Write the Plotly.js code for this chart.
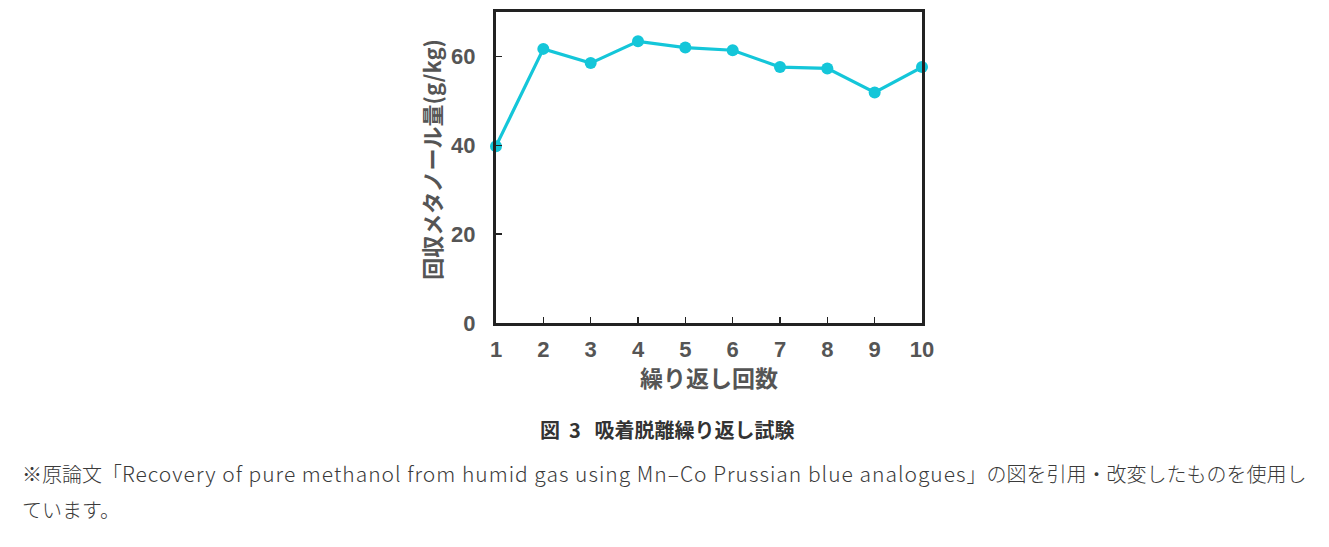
<!DOCTYPE html>
<html>
<head>
<meta charset="utf-8">
<script src="https://cdn.plot.ly/plotly-3.0.1.min.js"></script>
<style>
html,body{margin:0;padding:0;background:#fff;}
#chart{width:1329px;height:547px;}
</style>
</head>
<body>
<div id="chart"></div>
<script>
const cycles = [1, 2, 3, 4, 5, 6, 7, 8, 9, 10];
const methanol = [39.8, 61.7, 58.5, 63.4, 62.0, 61.4, 57.6, 57.3, 51.9, 57.6];
const xTickVals = [1, 2, 3, 4, 5, 6, 7, 8, 9, 10];
const yTickVals = [0, 20, 40, 60];
const yTitle = "回収メタノール量(g/kg)";
const xTitle = "繰り返し回数";
const caption = "図&nbsp;&nbsp;3&nbsp;&nbsp;&nbsp;吸着脱離繰り返し試験";
const noteA = "※原論文「";
const noteLatin = "Recovery of pure methanol from humid gas using Mn–Co Prussian blue analogues";
const noteB = "」の図を引用・改変したものを使用し";
const note2 = "ています。";

const L = 496, R = 922, T = 12, B = 323.5, W = 1329, H = 547;
const pw = R - L, ph = B - T;
const px = v => (v - L) / pw;
const py = v => (B - v) / ph;

const tickFont = {family: "Liberation Sans, Arial, sans-serif", size: 22, color: "#555555", weight: "bold"};
const cjk = "Noto Sans CJK JP, sans-serif";

const trace = {
  x: cycles, y: methanol, type: "scatter", mode: "lines+markers",
  line: {color: "#14c6d9", width: 3.2},
  marker: {color: "#14c6d9", size: 12},
  cliponaxis: false, showlegend: false
};

const noteText = noteA + '<span style="font-size:21px;letter-spacing:1px">' + noteLatin + '</span>' + noteB;

const layout = {
  width: W, height: H,
  margin: {l: L, r: W - R, t: T, b: H - B, pad: 0},
  paper_bgcolor: "#ffffff", plot_bgcolor: "#ffffff",
  xaxis: {
    range: [1, 10], tickvals: xTickVals, ticks: "inside", ticklen: 6, tickwidth: 1.5, tickcolor: "#222",
    showline: true, linecolor: "#222", linewidth: 3, mirror: true, showgrid: false, zeroline: false,
    tickfont: tickFont, ticklabelstandoff: 5
  },
  yaxis: {
    range: [0, 70], tickvals: yTickVals, ticks: "inside", ticklen: 6, tickwidth: 1.5, tickcolor: "#222",
    showline: true, linecolor: "#222", linewidth: 3, mirror: true, showgrid: false, zeroline: false,
    tickfont: tickFont, ticklabelstandoff: 13
  },
  annotations: [
    {xref: "paper", yref: "paper", x: px(709), y: py(378), xanchor: "center", yanchor: "middle",
     text: xTitle, showarrow: false, font: {family: cjk, size: 23, color: "#555555", weight: "bold"}},
    {xref: "paper", yref: "paper", x: px(431), y: py(160), xanchor: "center", yanchor: "middle", textangle: -90,
     text: yTitle, showarrow: false, font: {family: cjk, size: 22, color: "#555555", weight: "bold"}},
    {xref: "paper", yref: "paper", x: px(667), y: py(430), xanchor: "center", yanchor: "middle",
     text: caption, showarrow: false, font: {family: cjk, size: 20, color: "#333333", weight: "bold"}},
    {xref: "paper", yref: "paper", x: px(20), y: py(474), xanchor: "left", yanchor: "middle",
     text: noteText, showarrow: false, font: {family: cjk, size: 20, color: "#3a3a3a", weight: 300}},
    {xref: "paper", yref: "paper", x: px(20), y: py(510), xanchor: "left", yanchor: "middle",
     text: note2, showarrow: false, font: {family: cjk, size: 20, color: "#3a3a3a", weight: 300}}
  ]
};

Plotly.newPlot("chart", [trace], layout, {displayModeBar: false, staticPlot: true});
</script>
</body>
</html>
